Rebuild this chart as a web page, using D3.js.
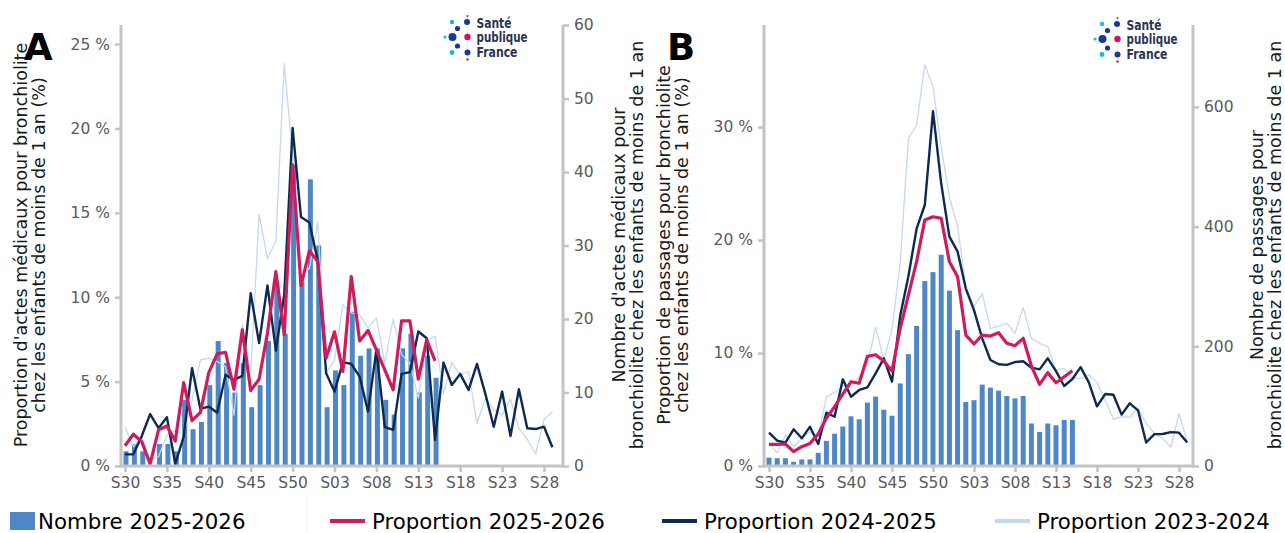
<!DOCTYPE html>
<html><head><meta charset="utf-8">
<script src="https://cdn.jsdelivr.net/npm/d3@7"></script>
<style>
html,body{margin:0;padding:0;background:#fff;}
svg{display:block;font-family:"DejaVu Sans",sans-serif;}
</style></head>
<body><svg id="c" width="1285" height="533"></svg>
<script>
const weeks = ["S30","S31","S32","S33","S34","S35","S36","S37","S38","S39","S40","S41","S42","S43","S44","S45","S46","S47","S48","S49","S50","S51","S52",
"S01","S02","S03","S04","S05","S06","S07","S08","S09","S10","S11","S12","S13","S14","S15","S16","S17","S18","S19","S20","S21","S22","S23","S24","S25","S26","S27","S28","S29"];
const xTickLabels = ["S30","S35","S40","S45","S50","S03","S08","S13","S18","S23","S28"];

// Panel A : actes médicaux
const actesNombre2526 = [2,3,2,0,3,3,2,9,5,6,11,17,14,10,14,8,11,17,25,18,41,25,39,30,8,13,11,21,15,16,16,9,7,16,18,10,15,12];
const actesProp2526 = [1.2,1.88,1.44,0.12,2.14,2.37,1.48,4.94,2.69,3.18,5.53,6.64,6.74,4.55,8.07,4.47,5.14,7.87,11.52,7.77,17.85,10.68,12.75,12.12,6.39,7.95,5.6,11.23,7.41,8.03,6.88,5.69,4.51,8.6,8.6,5.14,7.47,6.23];
const actesProp2425 = [0.69,0.69,1.78,3.07,2.24,2.89,0.12,1.74,5.8,3.38,3.52,3.16,5.4,5.1,5.34,10.24,7.28,10.7,6.84,10.14,20.03,14.75,14.43,12.16,5.5,4.41,6.15,6.05,5.3,3.22,6.88,2.3,2.14,5.46,5.56,7.97,7.57,1.54,6.13,4.8,5.46,4.51,6.05,4.27,2.33,4.41,1.78,4.55,2.24,2.19,2.33,1.11];
const actesProp2324 = [2.3,1.15,1.74,0.36,0.55,1.84,2.1,1.84,3.9,6.29,6.39,6.19,5.89,3.02,8.36,5.5,14.9,12.3,13.3,23.84,18.4,11.5,11.7,14.43,5.5,6.29,9.55,9.07,8.96,8.2,8.76,6.1,8.7,6.6,6.09,4.02,7.4,7.7,4.31,6.13,5.4,5.6,2.53,4.02,3.32,3.02,3.96,2.24,1.58,0.71,2.77,3.22];
const actesLeftTicks = [0,5,10,15,20,25];
const actesRightTicks = [0,10,20,30,40,50,60];

// Panel B : passages aux urgences
const passNombre2526 = [14,13,13,7,11,11,22,42,54,66,83,78,106,116,94,84,138,187,234,309,324,353,293,227,107,110,136,131,126,117,113,117,71,57,71,68,77,77];
const passProp2526 = [1.92,1.92,1.95,1.27,1.71,2.0,2.83,4.22,5.25,6.37,7.46,7.32,9.7,9.85,9.3,8.4,12.18,15.13,18.08,21.77,22.06,21.92,18.08,16.75,11.59,10.8,11.59,11.5,11.8,10.86,10.65,11.3,8.85,7.23,8.26,7.37,7.9,8.43];
const passProp2425 = [2.95,2.24,2.06,3.25,2.45,3.48,1.95,4.72,4.36,7.67,6.13,6.73,6.96,8.2,9.53,7.46,13.3,16.8,21.0,23.1,31.4,25.0,20.3,18.97,15.7,13.8,11.3,9.38,9.0,8.95,9.2,9.27,8.7,8.55,9.53,8.4,7.08,7.7,8.75,7.4,5.28,6.37,6.3,4.55,5.55,4.93,2.08,2.82,2.83,3.0,2.95,2.08];
const passProp2324 = [2.0,1.18,2.74,1.71,2.45,3.04,2.6,6.13,6.49,7.08,7.02,7.9,8.94,12.27,9.38,12.1,18.0,29.0,30.18,35.5,33.57,28.2,23.8,21.2,15.87,14.1,15.28,12.18,12.39,12.63,11.74,14.04,11.3,10.86,10.56,8.5,8.64,7.76,7.76,8.05,7.4,5.8,4.13,4.36,4.31,5.1,3.78,2.89,2.45,1.65,4.66,2.15];
const passLeftTicks = [0,10,20,30];
const passRightTicks = [0,200,400,600];

const legendLabels = ["Nombre 2025-2026","Proportion 2025-2026","Proportion 2024-2025","Proportion 2023-2024"];
const logoWords = ["Santé","publique","France"];

const C = {bar:"#4f86c6", p26:"#cc1d5c", p25:"#0c2a52", p24:"#c4d8ee", axis:"#c4c4c4", tick:"#5a5a5a"};

const svg = d3.select("#c");

function panel(o){
  const g = svg.append("g");
  const x = d3.scaleLinear().domain([0, weeks.length-1]).range([o.x0, o.x1]);
  const yL = d3.scaleLinear().domain([0, o.lMax]).range([466, 25]);
  const yR = d3.scaleLinear().domain([0, o.rMax]).range([466, 25]);
  g.selectAll("rect.bar").data(o.counts).enter().append("rect")
    .attr("x",(d,i)=>x(i)-2.5+o.barShift).attr("width",5)
    .attr("y",d=>yR(d)).attr("height",d=>466-yR(d)).attr("fill",C.bar);
  const line = d3.line().x((d,i)=>x(i)).y(d=>yL(d));
  g.append("path").attr("d",line(o.p24)).attr("fill","none").attr("stroke",C.p24).attr("stroke-width",1.3).attr("stroke-linejoin","round");
  g.append("path").attr("d",line(o.p25)).attr("fill","none").attr("stroke",C.p25).attr("stroke-width",2.4).attr("stroke-linejoin","round");
  g.append("path").attr("d",line(o.p26)).attr("fill","none").attr("stroke",C.p26).attr("stroke-width",3.2).attr("stroke-linejoin","round");
  const xa = g.append("g").attr("transform","translate(0,466)")
    .call(d3.axisBottom(x).tickValues(d3.range(0,weeks.length,5)).tickFormat(i=>weeks[i]).tickSize(6).tickPadding(5));
  const la = g.append("g").attr("transform",`translate(${o.ax0},0)`)
    .call(d3.axisLeft(yL).tickValues(o.lTicks).tickFormat(d=>d+" %").tickSize(6).tickPadding(5));
  const ra = g.append("g").attr("transform",`translate(${o.ax1},0)`)
    .call(d3.axisRight(yR).tickValues(o.rTicks).tickSize(6).tickPadding(5));
  [xa,la,ra].forEach(a=>{
    a.select(".domain").remove();
    a.selectAll("line").attr("stroke",C.axis).attr("stroke-width",2.5);
    a.selectAll("text").attr("fill",C.tick).style("font-size","15.5px").style("font-family","DejaVu Sans");
  });
  g.append("line").attr("x1",o.ax0).attr("x2",o.ax1).attr("y1",466).attr("y2",466).attr("stroke",C.axis).attr("stroke-width",3);
  g.append("line").attr("x1",o.ax0).attr("x2",o.ax0).attr("y1",25).attr("y2",467.5).attr("stroke",C.axis).attr("stroke-width",3);
  g.append("line").attr("x1",o.ax1).attr("x2",o.ax1).attr("y1",25).attr("y2",467.5).attr("stroke",C.axis).attr("stroke-width",3);
  function vtitle(cx, lines){
    const t = g.append("text").attr("transform",`translate(${cx},245) rotate(-90)`)
      .attr("text-anchor","middle").style("font-size","17.5px").attr("fill","#1a1a1a");
    lines.forEach((s,k)=>t.append("tspan").attr("x",0).attr("y",k*18).text(s));
  }
  vtitle(o.lt, o.lTitle);
  vtitle(o.rt, o.rTitle);
  g.append("text").attr("x",o.letterX).attr("y",60).text(o.letter)
    .style("font-size","37px").style("font-weight","bold").attr("fill","#000");
  const lg = g.append("g").attr("transform",`translate(${o.logoX},${o.logoY})`);
  const dots = [[0,0,2.2,"#20b4e3"],[15,0,3,"#123e8c"],[5.5,6.5,2.6,"#123e8c"],[-7,15,1.6,"#20b4e3"],[0.5,15,4,"#123e8c"],[15.5,15,3.2,"#d5125a"],[5.5,24,2.6,"#123e8c"],[0,30.5,2.4,"#20b4e3"],[15.5,30.5,3,"#123e8c"],[15.5,37.5,1.2,"#d5125a"],[15.5,-6,1,"#d5125a"]];
  lg.append("line").attr("x1",15.5).attr("x2",15.5).attr("y1",-5).attr("y2",37).attr("stroke","#b8c0d0").attr("stroke-width",0.6).attr("stroke-dasharray","1.5,1.5");
  dots.forEach(d=>lg.append("circle").attr("cx",d[0]).attr("cy",d[1]).attr("r",d[2]).attr("fill",d[3]));
  const widths = [35,51,41];
  logoWords.forEach((s,k)=>lg.append("text").attr("x",24.5).attr("y",5.5+k*14.5).text(s)
    .attr("textLength",widths[k]).attr("lengthAdjust","spacingAndGlyphs")
    .style("font-weight","bold").style("font-size","13.5px").attr("fill","#2b3550"));
}

panel({x0:125, x1:552.4, ax0:121, ax1:563, lMax:26.13, rMax:60, counts:actesNombre2526, p26:actesProp2526, p25:actesProp2425, p24:actesProp2324,
  lTicks:actesLeftTicks, rTicks:actesRightTicks, barShift:1, lt:27, rt:625,
  lTitle:["Proportion d'actes médicaux pour bronchiolite","chez les enfants de moins de 1 an (%)"],
  rTitle:["Nombre d'actes médicaux pour","bronchiolite chez les enfants de moins de 1 an"],
  letter:"A", letterX:24, logoX:452, logoY:22});
panel({x0:769, x1:1187.2, ax0:764, ax1:1193, lMax:39.03, rMax:737, counts:passNombre2526, p26:passProp2526, p25:passProp2425, p24:passProp2324,
  lTicks:passLeftTicks, rTicks:passRightTicks, barShift:0, lt:670, rt:1263,
  lTitle:["Proportion de passages pour bronchiolite","chez les enfants de moins de 1 an (%)"],
  rTitle:["Nombre de passages pour","bronchiolite chez les enfants de moins de 1 an"],
  letter:"B", letterX:667, logoX:1102, logoY:24});

const lgd = svg.append("g");
const items = [{x:10,type:"rect",c:C.bar},{x:330,type:"line",c:C.p26,w:4},{x:662,type:"line",c:C.p25,w:4},{x:995,type:"line",c:C.p24,w:4}];
lgd.append("line").attr("x1",307).attr("x2",307).attr("y1",495).attr("y2",533).attr("stroke","#f0f0f0").attr("stroke-width",1);
items.forEach((it,k)=>{
  if(it.type==="rect") lgd.append("rect").attr("x",it.x).attr("y",512).attr("width",25).attr("height",18).attr("fill",it.c);
  else lgd.append("line").attr("x1",it.x).attr("x2",it.x+35).attr("y1",521).attr("y2",521).attr("stroke",it.c).attr("stroke-width",it.w);
  lgd.append("text").attr("x",it.x+(it.type==="rect"?28:42)).attr("y",528.5).text(legendLabels[k]).style("font-size","21.3px").attr("fill","#000");
});
</script></body></html>
